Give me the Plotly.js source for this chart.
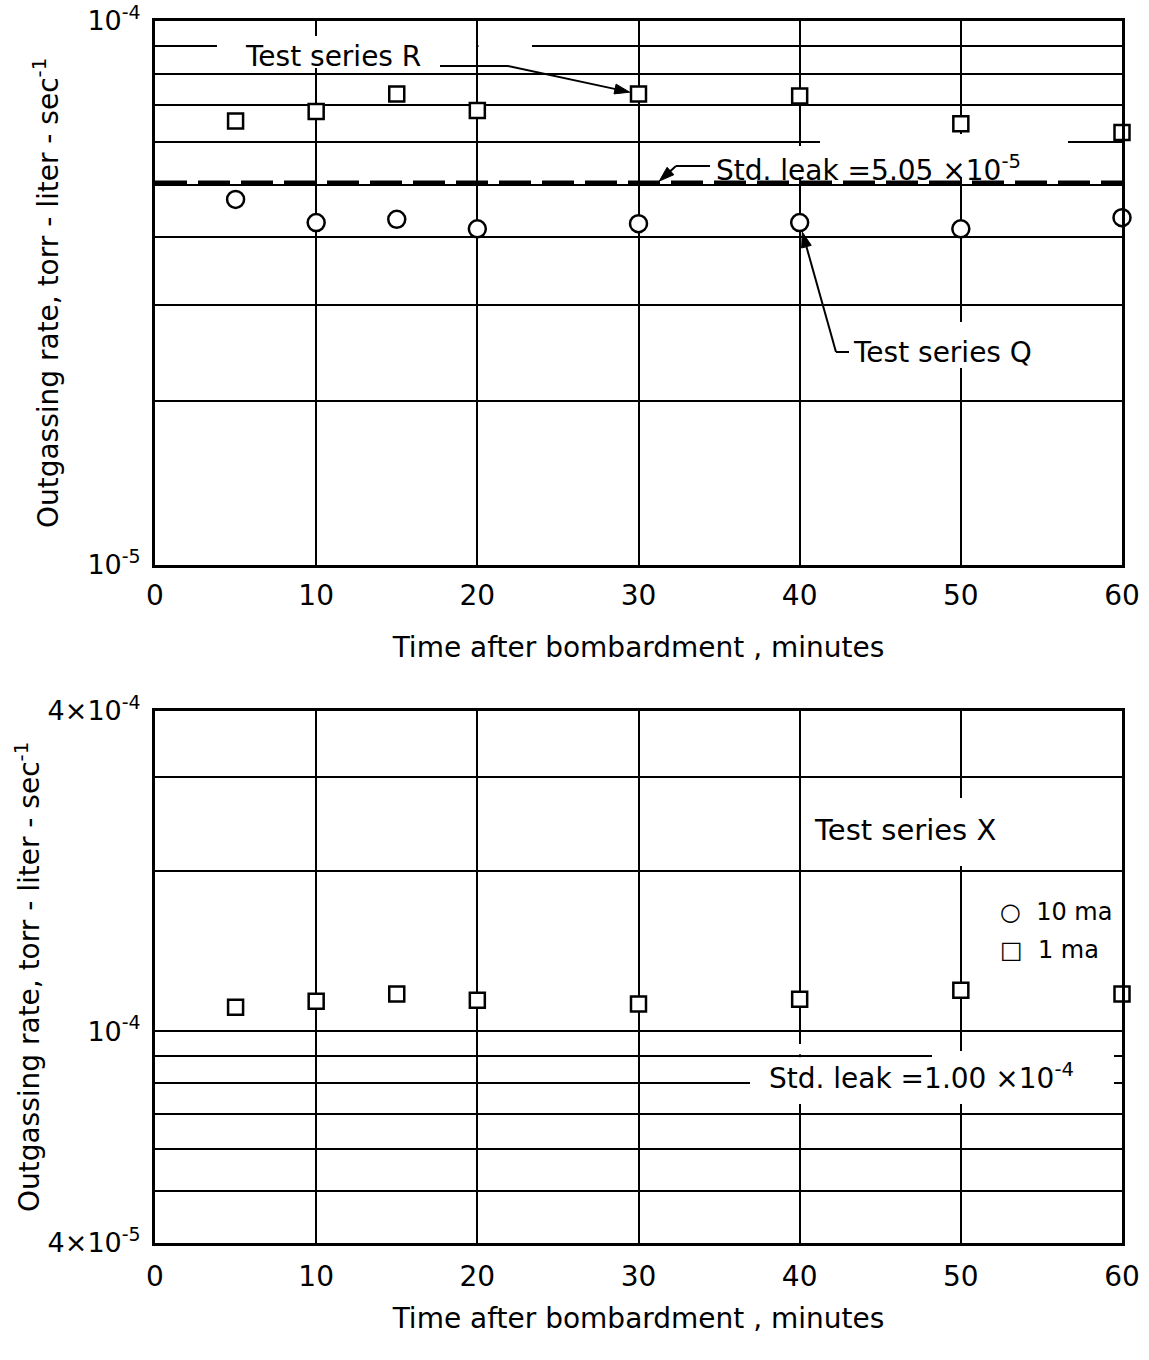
<!DOCTYPE html>
<html>
<head>
<meta charset="utf-8">
<script src="https://cdn.plot.ly/plotly-3.0.1.min.js"></script>
<style>html,body{margin:0;padding:0;background:#fff;}</style>
</head>
<body>
<div id="chart" style="width:1149px;height:1360px;"></div>
<script>
// ---------------- data ----------------
const timeMin = [5, 10, 15, 20, 30, 40, 50, 60];
const rateSeriesR = [6.55e-5, 6.82e-5, 7.34e-5, 6.85e-5, 7.34e-5, 7.28e-5, 6.47e-5, 6.24e-5];
const rateSeriesQ = [4.70e-5, 4.26e-5, 4.32e-5, 4.15e-5, 4.24e-5, 4.26e-5, 4.15e-5, 4.35e-5];
const stdLeakTop = 5.05e-5;
const rateSeriesX1ma = [1.110e-4, 1.139e-4, 1.175e-4, 1.144e-4, 1.125e-4, 1.149e-4, 1.195e-4, 1.175e-4];
const stdLeakBottom = 1.00e-4;

const xTickVals = [0, 10, 20, 30, 40, 50, 60];
const xTickText = ['0', '10', '20', '30', '40', '50', '60'];
const topYLabelVals = [1e-5, 1e-4];
const topYLabelText = ['10<sup>-5</sup>', '10<sup>-4</sup>'];
const topYGridVals = [2e-5, 3e-5, 4e-5, 5e-5, 6e-5, 7e-5, 8e-5, 9e-5];
const botYLabelVals = [4e-5, 1e-4, 4e-4];
const botYLabelText = ['4×10<sup>-5</sup>', '10<sup>-4</sup>', '4×10<sup>-4</sup>'];
const botYGridVals = [5e-5, 6e-5, 7e-5, 8e-5, 9e-5, 2e-4, 3e-4];

const xTitle = 'Time after bombardment , minutes';
const yTitle = 'Outgassing rate, torr - liter - sec<sup>-1</sup>';

// ---------------- layout helpers (positions only) ----------------
const W = 1149, H = 1360;
const M = {l: 155, r: 27, t: 21, b: 117};
const plotW = W - M.l - M.r, plotH = H - M.t - M.b;
const TOP_Y0 = 21, TOP_Y1 = 565;            // top panel pixel extent
const px = p => (p - M.l) / plotW;          // pixel x -> paper x
const py = p => (H - M.b - p) / plotH;      // pixel y -> paper y
const FONT = 'DejaVu Sans, Liberation Sans, sans-serif';
const xPix = t => M.l + t / 60 * plotW;
const yPixTop = v => TOP_Y0 + (-4 - Math.log10(v)) * (TOP_Y1 - TOP_Y0);

function gap(x0, x1, y0, y1) {
  return {type: 'rect', xref: 'paper', yref: 'paper', layer: 'above',
    x0: px(x0), x1: px(x1), y0: py(y1), y1: py(y0),
    fillcolor: '#ffffff', line: {width: 0}};
}
function seg(x0, y0, x1, y1) {
  return {type: 'line', xref: 'paper', yref: 'paper', layer: 'above',
    x0: px(x0), y0: py(y0), x1: px(x1), y1: py(y1),
    line: {color: '#000', width: 2}};
}
// leader ending in a filled arrow head pointing at (cx, cy), stopping `stand` px short
function leader(fx, fy, cx, cy, stand) {
  const dx = cx - fx, dy = cy - fy, L = Math.hypot(dx, dy);
  const ux = dx / L, uy = dy / L;
  const tx = cx - ux * stand, ty = cy - uy * stand;
  const hl = 15, hw = 5;
  const bx = tx - ux * hl, by = ty - uy * hl;
  const p1 = [bx - uy * hw, by + ux * hw], p2 = [bx + uy * hw, by - ux * hw];
  const path = 'M' + px(tx) + ',' + py(ty) + ' L' + px(p1[0]) + ',' + py(p1[1]) +
               ' L' + px(p2[0]) + ',' + py(p2[1]) + ' Z';
  return [seg(fx, fy, bx + ux * 3, by + uy * 3),
    {type: 'path', xref: 'paper', yref: 'paper', layer: 'above', path: path,
     fillcolor: '#000', line: {color: '#000', width: 1}}];
}
function label(text, x, y, size, xanchor) {
  return {text: text, xref: 'paper', yref: 'paper', x: px(x), y: py(y),
    xanchor: xanchor || 'center', yanchor: 'middle', showarrow: false,
    font: {family: FONT, size: size, color: '#000'}};
}

const markerSquare = {symbol: 'square', size: 15, color: '#fff', line: {color: '#000', width: 2.5}};
const markerCircle = {symbol: 'circle', size: 17, color: '#fff', line: {color: '#000', width: 2.5}};

const traces = [
  {x: [xTickVals[0], xTickVals[xTickVals.length - 1]], y: [stdLeakTop, stdLeakTop],
   xaxis: 'x', yaxis: 'y', mode: 'lines', name: 'Std. leak',
   line: {color: '#000', width: 4, dash: '32px,11px'}, hoverinfo: 'skip'},
  {x: timeMin, y: rateSeriesR, xaxis: 'x', yaxis: 'y', mode: 'markers', name: 'Test series R', marker: markerSquare, cliponaxis: false},
  {x: timeMin, y: rateSeriesQ, xaxis: 'x', yaxis: 'y', mode: 'markers', name: 'Test series Q', marker: markerCircle, cliponaxis: false},
  {x: timeMin, y: rateSeriesX1ma, xaxis: 'x2', yaxis: 'y2', mode: 'markers', name: '1 ma', marker: markerSquare, cliponaxis: false}
];

function xAxis(anchor, labelGap, titleGap) {
  return {
    anchor: anchor, domain: [0, 1],
    range: [0, 60], tickmode: 'array', tickvals: xTickVals, ticktext: xTickText,
    showgrid: true, gridcolor: '#000', gridwidth: 2, zeroline: false,
    showline: true, mirror: true, linecolor: '#000', linewidth: 3, ticks: '',
    tickfont: {family: FONT, size: 28, color: '#000'}, ticklabelstandoff: labelGap,
    title: {text: xTitle, font: {family: FONT, size: 28, color: '#000'}, standoff: titleGap}
  };
}
function yAxis(anchor, domain, range, vals, text, grid, titleGap) {
  return {
    anchor: anchor, domain: domain, type: 'log', range: range,
    tickmode: 'array', tickvals: vals, ticktext: text,
    showgrid: true, gridcolor: '#000', gridwidth: 2, zeroline: false,
    minor: {tickmode: 'array', tickvals: grid, showgrid: true, gridcolor: '#000', gridwidth: 2, ticks: ''},
    showline: true, mirror: true, linecolor: '#000', linewidth: 3, ticks: '',
    tickfont: {family: FONT, size: 27, color: '#000'}, ticklabelstandoff: 6,
    title: {text: yTitle, font: {family: FONT, size: 28, color: '#000'}, standoff: titleGap}
  };
}

const shapes = [
  // gaps in the grid around lettering (top panel)
  gap(217, 476, 41, 52), gap(478.5, 532, 41, 52),
  gap(310, 322, 36, 68),
  gap(820, 1068, 137, 148),
  gap(794, 806, 146, 177),
  gap(955, 967, 134, 177),
  gap(955, 967, 322, 368),
  // gaps (bottom panel)
  gap(955, 967, 798, 866),
  gap(932, 1114, 1051, 1061),
  gap(750, 1114, 1078, 1088),
  gap(794, 806, 1044, 1054.3), gap(794, 806, 1057.2, 1104),
  gap(955, 967, 1052, 1104),
  // leader lines
  seg(440, 66, 508, 66),
  seg(676, 166, 710, 166),
  seg(836, 352, 849, 352)
].concat(
  leader(508, 66, xPix(timeMin[4]), yPixTop(rateSeriesR[4]), 9),
  leader(676, 166, xPix(31.2), yPixTop(stdLeakTop), 2),
  leader(836, 352, xPix(timeMin[5]), yPixTop(rateSeriesQ[5]), 10)
);

const layout = {
  width: W, height: H, margin: M, showlegend: false,
  paper_bgcolor: '#fff', plot_bgcolor: '#fff',
  font: {family: FONT, color: '#000'},
  xaxis: xAxis('y', 3, 27),
  yaxis: yAxis('x', [py(TOP_Y1), 1], [Math.log10(1e-5), Math.log10(1e-4)],
    topYLabelVals, topYLabelText, topYGridVals, 21),
  xaxis2: xAxis('y2', 6, 17),
  yaxis2: yAxis('x2', [0, py(711)], [Math.log10(4e-5), Math.log10(4e-4)],
    botYLabelVals, botYLabelText, botYGridVals, 0),
  shapes: shapes,
  annotations: [
    label('Test series R', 333, 57, 28),
    label('Std. leak =5.05 ×10<sup>-5</sup>', 714, 168, 28, 'left'),
    label('Test series Q', 851, 352, 28, 'left'),
    label('Test series X', 905, 830, 29),
    label('○  10 ma', 998, 912, 24, 'left'),
    label('□  1 ma', 998, 950, 24, 'left'),
    label('Std. leak =' + (stdLeakBottom / 1e-4).toFixed(2) + ' ×10<sup>-4</sup>', 767, 1076, 28, 'left')
  ]
};

Plotly.newPlot('chart', traces, layout, {staticPlot: true, displayModeBar: false});
</script>
</body>
</html>
